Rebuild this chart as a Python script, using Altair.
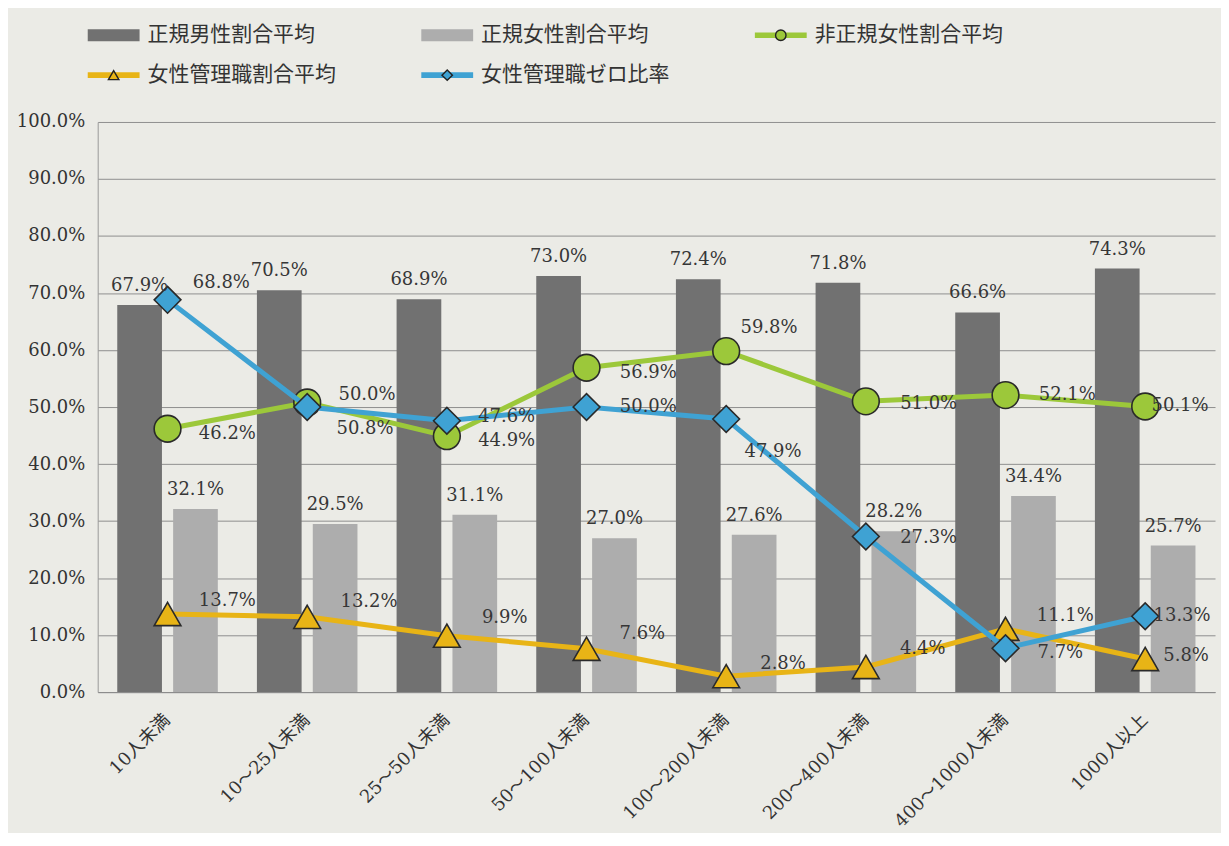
import altair as alt
import pandas as pd

categories = ["10人未満", "10～25人未満", "25～50人未満", "50～100人未満",
              "100～200人未満", "200～400人未満", "400～1000人未満", "1000人以上"]
male_regular = [67.9, 70.5, 68.9, 73.0, 72.4, 71.8, 66.6, 74.3]
female_regular = [32.1, 29.5, 31.1, 27.0, 27.6, 28.2, 34.4, 25.7]
female_nonregular = [46.2, 50.8, 44.9, 56.9, 59.8, 51.0, 52.1, 50.1]
female_manager = [13.7, 13.2, 9.9, 7.6, 2.8, 4.4, 11.1, 5.8]
zero_manager = [68.8, 50.0, 47.6, 50.0, 47.9, 27.3, 7.7, 13.3]

series_names = ["正規男性割合平均", "正規女性割合平均", "非正規女性割合平均",
                "女性管理職割合平均", "女性管理職ゼロ比率"]
series_colors = ["#717171", "#adadad", "#9cc83a", "#e8b416", "#3fa2d3"]

# hand-placed data-label nudges (pixels from the marker centre), as in the original
green_label_dx = [60, 58, 60, 62, 43, 63, 62, 35]
green_label_dy = [5, 27, 5, 5, -23, 3, 0, 0]
yellow_label_dx = [60, 62, 58, 56, 57, 57, 60, 41]
yellow_label_dy = [-13, -15, -18, -15, -12, -18, -13, -3]
blue_label_dx = [54, 60, 60, 62, 47, 63, 55, 37]
blue_label_dy = [-17, -12, -4, 0, 33, 2, 5, 0]

NUM_FONT = "DejaVu Serif, Noto Sans CJK JP"
JP_FONT = "Noto Sans CJK JP"
TEXT_COLOR = "#363636"


def frame(values, name):
    return pd.DataFrame({"cat": categories, "value": values, "series": name,
                         "label": [f"{v:.1f}%" for v in values]})


bar_df = pd.concat([frame(male_regular, series_names[0]),
                    frame(female_regular, series_names[1])], ignore_index=True)

X = alt.X("cat:N", sort=categories,
          scale=alt.Scale(paddingInner=0.28, paddingOuter=0.14),
          axis=alt.Axis(title=None, labelAngle=-45, labelAlign="right",
                        labelBaseline="middle", labelPadding=25, ticks=False,
                        domainColor="#8c8c8c", labelFontSize=18,
                        labelColor="#333333", grid=False, labelFont=NUM_FONT))
Y = alt.Y("value:Q", scale=alt.Scale(domain=[0, 100]),
          axis=alt.Axis(title=None, values=list(range(0, 101, 10)),
                        labelExpr="format(datum.value, '.1f') + '%'",
                        grid=True, gridColor="#8f8f8f", domain=True,
                        domainColor="#9a9a9a", ticks=False, labelFontSize=18,
                        labelColor="#333333", labelPadding=13,
                        minExtent=84, maxExtent=84, labelFont=NUM_FONT))
XO = alt.XOffset("series:N", sort=series_names[:2],
                 scale=alt.Scale(paddingInner=0.2))

bars = alt.Chart(bar_df).mark_bar().encode(
    x=X, xOffset=XO, y=Y,
    color=alt.Color("series:N", scale=alt.Scale(domain=series_names[:2],
                                                range=series_colors[:2]),
                    legend=None))
bar_text = alt.Chart(bar_df).mark_text(
    baseline="bottom", dy=-10, fontSize=18, color=TEXT_COLOR, font=NUM_FONT
).encode(x=X, xOffset=XO, y=Y, text="label:N")

line_specs = [
    (frame(female_nonregular, series_names[2]), series_colors[2], "circle",
     green_label_dx, green_label_dy),
    (frame(female_manager, series_names[3]), series_colors[3], "triangle-up",
     yellow_label_dx, yellow_label_dy),
    (frame(zero_manager, series_names[4]), series_colors[4], "diamond",
     blue_label_dx, blue_label_dy),
]

line_layers = []
text_layers = []
for df, col, shape, ndx, ndy in line_specs:
    line_layers.append(alt.Chart(df).mark_line(color=col, strokeWidth=5).encode(x=X, y=Y))
    line_layers.append(alt.Chart(df).mark_point(
        shape=shape, filled=True, fill=col, stroke="#2a2a2a", strokeWidth=1.6,
        size=720, opacity=1).encode(x=X, y=Y))
    for cat, dx, dy in zip(categories, ndx, ndy):
        text_layers.append(alt.Chart(df).transform_filter(
            alt.datum.cat == cat).mark_text(
            align="center", baseline="middle", dx=dx, dy=dy, fontSize=18,
            color=TEXT_COLOR, font=NUM_FONT
        ).encode(x=X, y=Y, text="label:N"))

main = alt.layer(bars, *line_layers, bar_text, *text_layers).properties(
    width=1121, height=572,
    view=alt.ViewBackground(stroke="transparent", fill="transparent"))

# custom legend
legend_df = pd.DataFrame({
    "name": series_names,
    "col": [0, 1, 2, 0, 1],
    "row": [0, 0, 0, 1, 1],
    "kind": ["bar", "bar", "line", "line", "line"],
    "marker": ["", "", "circle", "triangle-up", "diamond"],
})
LX = alt.X("col:Q", scale=alt.Scale(domain=[0, 3], range=[16, 1020]), axis=None)
LY = alt.Y("row:Q", scale=alt.Scale(domain=[0, 1], range=[25, 65]), axis=None)
LC = alt.Color("name:N", scale=alt.Scale(domain=series_names, range=series_colors),
               legend=None)
lbase = alt.Chart(legend_df)
leg_bar = lbase.transform_filter("datum.kind == 'bar'").mark_point(
    shape="M-1,-0.23L1,-0.23L1,0.23L-1,0.23Z", filled=True, size=2704,
    opacity=1).encode(x=LX, y=LY, color=LC)
leg_line = lbase.transform_filter("datum.kind == 'line'").mark_point(
    shape="M-1,-0.11L1,-0.11L1,0.11L-1,0.11Z", filled=True, size=2704,
    opacity=1).encode(x=LX, y=LY, color=LC)
leg_mark = lbase.transform_filter("datum.kind == 'line'").mark_point(
    filled=True, size=110, stroke="#222222", strokeWidth=1.4, opacity=1
).encode(x=LX, y=LY, color=LC, shape=alt.Shape("marker:N", scale=None))
leg_text = lbase.mark_text(align="left", dx=34, fontSize=21,
                           color="#333333", font=JP_FONT).encode(
    x=LX, y=LY, text="name:N")
legend = alt.layer(leg_bar, leg_line, leg_mark, leg_text).properties(
    width=1121, height=85,
    view=alt.ViewBackground(stroke="transparent", fill="transparent"))

chart = alt.vconcat(legend, main, spacing=16).properties(
    background="#ebebe6",
    padding={"left": 5, "right": 5, "top": 0, "bottom": 0}
).configure_view(stroke="transparent", strokeWidth=0).configure(font=NUM_FONT)

chart.save("out.html", embed_options={"renderer": "svg", "actions": False})
